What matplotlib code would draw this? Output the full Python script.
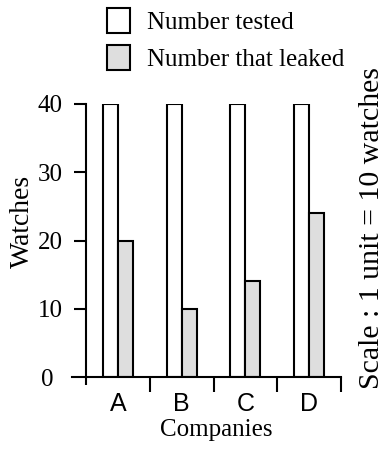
import matplotlib
matplotlib.use("Agg")
import matplotlib.pyplot as plt
import numpy as np

# data
companies = ["A", "B", "C", "D"]
tested = [40, 40, 40, 40]
leaked = [20, 10, 14, 24]
y_ticks = [0, 10, 20, 30, 40]

SERIF = "Liberation Serif"
SANS = "Liberation Sans"
FS = 18

fig = plt.figure(figsize=(3.89, 4.53), dpi=100)
ax = fig.add_axes([86 / 389, 1 - 377 / 453, 255 / 389, 273 / 453])

centers = np.arange(len(companies)) + 0.5
w = 0.235
b1 = ax.bar(centers - w / 2, tested, w, facecolor="white", edgecolor="black", linewidth=1.5)
b2 = ax.bar(centers + w / 2, leaked, w, facecolor="#dedede", edgecolor="black", linewidth=1.5)

ax.set_xlim(0, len(companies))
ax.set_ylim(0, 40)

for s in ["top", "right"]:
    ax.spines[s].set_visible(False)
ax.spines["left"].set_linewidth(1.5)
ax.spines["bottom"].set_visible(False)
# x axis line runs a bit to the left of the y axis
ax.plot([-0.22, len(companies)], [0, 0], color="black", lw=1.5, clip_on=False)

# y ticks
ax.set_yticks(y_ticks)
ax.set_yticklabels([str(v) for v in y_ticks], fontfamily=SERIF, fontsize=FS)
ax.tick_params(axis="y", direction="out", length=8.6, width=1.5, pad=8)
t0 = ax.yaxis.get_major_ticks()[0]
t0.tick1line.set_visible(False)
t0.set_pad(15)

# x ticks: marks at the boundaries, labels at the centers
ax.set_xticks(np.arange(len(companies) + 1))
ax.set_xticklabels([])
ax.tick_params(axis="x", which="major", direction="out", length=11, width=1.5)
ax.xaxis.get_major_ticks()[0].tick1line.set_markersize(6)
ax.set_xticks(centers, minor=True)
ax.set_xticklabels(companies, minor=True, fontfamily=SANS, fontsize=FS)
ax.tick_params(axis="x", which="minor", length=0, pad=11)

ax.set_xlabel("Companies", fontfamily=SERIF, fontsize=FS)
ax.xaxis.set_label_coords(0.51, -0.155)
ax.set_ylabel("Watches", fontfamily=SERIF, fontsize=20)
ax.yaxis.set_label_coords(-0.2, 0.57)

fig.text(372 / 389, 1 - 228 / 453, "Scale : 1 unit = 10 watches", rotation=90,
         ha="center", va="center", fontfamily=SERIF, fontsize=21.5)

ax.legend([b1, b2], ["Number tested", "Number that leaked"], loc="upper left",
          bbox_to_anchor=(107 / 389, 1 - 8 / 453), bbox_transform=fig.transFigure,
          frameon=False, borderpad=0, borderaxespad=0, handlelength=0.9,
          handleheight=1.15, handletextpad=0.7, labelspacing=0.45,
          prop={"family": SERIF, "size": FS})

fig.savefig("out.png", dpi=100)
